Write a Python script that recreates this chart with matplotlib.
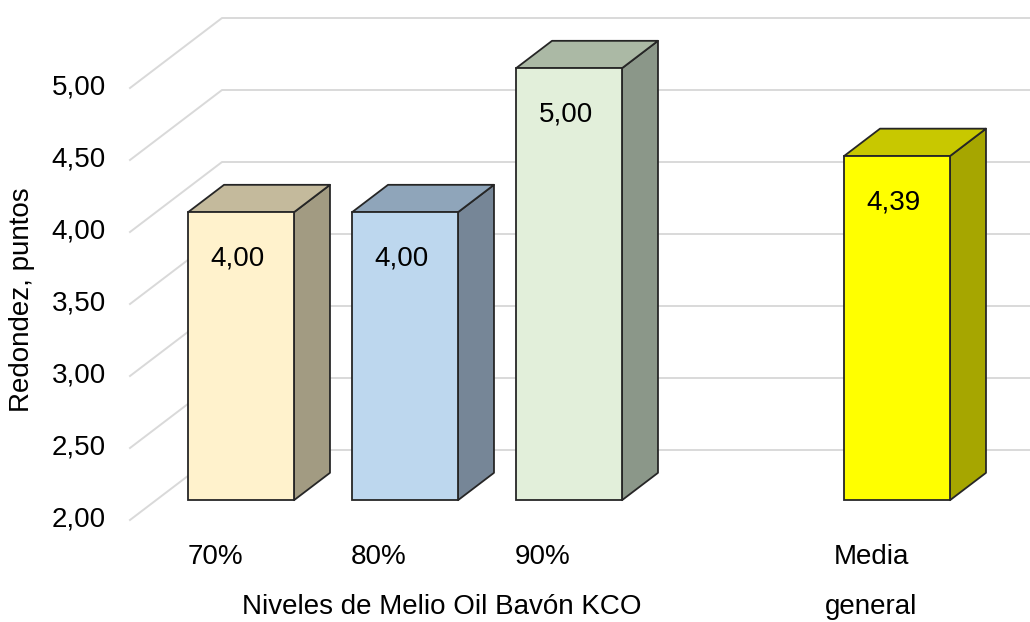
import matplotlib
matplotlib.use("Agg")
import matplotlib.pyplot as plt
from matplotlib.patches import Polygon

plt.rcParams['font.family'] = ['Liberation Sans', 'DejaVu Sans']

# Data
categories = ['70%', '80%', '90%', 'Media']
positions = [0, 1, 2, 4]
values = [4.00, 4.00, 5.00, 4.39]
value_labels = ['4,00', '4,00', '5,00', '4,39']
ticks = [2.0, 2.5, 3.0, 3.5, 4.0, 4.5, 5.0]
tick_labels = ['2,00', '2,50', '3,00', '3,50', '4,00', '4,50', '5,00']

# Colours: front, top, side
fronts = ['#FFF2CC', '#BDD7EE', '#E2EFDA', '#FFFF00']
tops = ['#C4BA9C', '#8FA5BA', '#ABB9A5', '#C8C800']
sides = ['#A29B82', '#768697', '#8B9789', '#A6A600']

# 3D look: depth vector for the back wall in data units
DX = 92 / 164
DY = 70 / 144
d_front = 0.283
d_back = 0.674
width = 0.646
base = 2.0


def shift(x, y, d):
    return (x + d * DX, y + d * DY)


fig = plt.figure(figsize=(10.3, 6.22), dpi=100)
ax = fig.add_axes([0, 0, 1, 1])
ax.set_xlim(-215 / 164, (1030 - 215) / 164)
ax.set_ylim(2 - 102 / 144, 2 + 520 / 144)
ax.axis('off')

# Gridlines: floor diagonal then back wall
x_start = (130 - 215) / 164
x_end = ax.get_xlim()[1]
for t, lab in zip(ticks, tick_labels):
    p0 = (x_start, t)
    p1 = shift(x_start, t, 1.0)
    ax.plot([p0[0], p1[0], x_end], [p0[1], p1[1], p1[1]],
            color='#D9D9D9', lw=1.4, zorder=1)
    ax.text((106 - 215) / 164, t, lab, ha='right', va='center', fontsize=20)

# Bars
for x, v, fc, tc, sc, lab in zip(positions, values, fronts, tops, sides, value_labels):
    left = x - width / 2
    right = x + width / 2
    # side face
    side = [shift(right, base, d_front), shift(right, v, d_front),
            shift(right, v, d_back), shift(right, base, d_back)]
    ax.add_patch(Polygon(side, closed=True, facecolor=sc, edgecolor='#262626',
                         lw=1.3, zorder=2, joinstyle='round'))
    # top face
    top = [shift(left, v, d_front), shift(right, v, d_front),
           shift(right, v, d_back), shift(left, v, d_back)]
    ax.add_patch(Polygon(top, closed=True, facecolor=tc, edgecolor='#262626',
                         lw=1.3, zorder=2, joinstyle='round'))
    # front face
    fx, fy = shift(x, base, d_front)
    ax.bar(fx, v - base, bottom=fy, width=width, color=fc,
           edgecolor='#262626', lw=1.3, zorder=3)
    ax.text(fx - 0.02, fy + (v - base) - 0.32, lab, ha='center', va='center',
            fontsize=20, zorder=4)

# Category labels
for x, c in zip(positions, categories):
    ax.text(x, 2 - 37 / 144, c, ha='center', va='center', fontsize=20)
ax.text(4, 2 - 87 / 144, 'general', ha='center', va='center', fontsize=20)

# Axis titles
ax.text((442 - 215) / 164, 2 - 87 / 144, 'Niveles de Melio Oil Bavón KCO',
        ha='center', va='center', fontsize=20)
ax.text((22 - 215) / 164, 2 + 220 / 144, 'Redondez, puntos', rotation=90,
        ha='center', va='center', fontsize=20)

fig.savefig('out.png', dpi=100)
